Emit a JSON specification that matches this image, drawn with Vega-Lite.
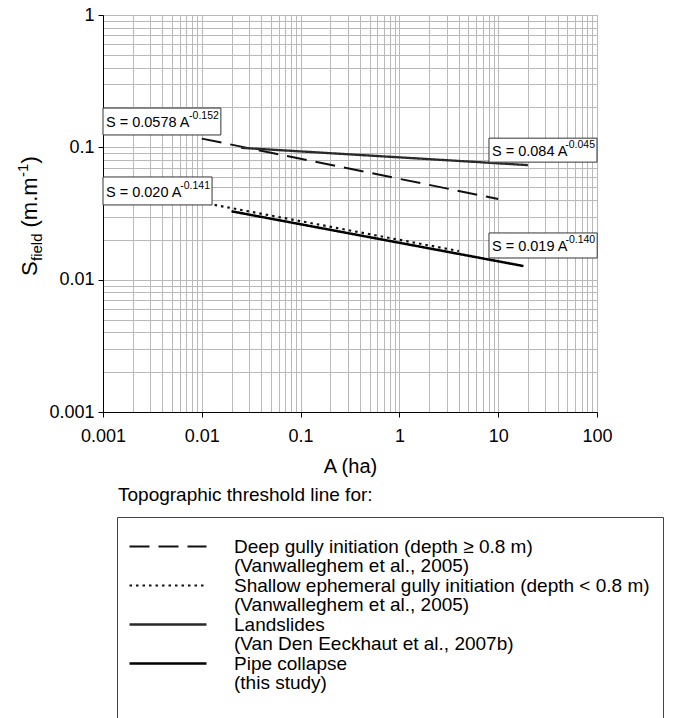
{
  "$schema": "https://vega.github.io/schema/vega-lite/v6.json",
  "width": 494,
  "height": 397,
  "autosize": {"type": "none"},
  "padding": {"left": 103, "top": 15, "right": 76, "bottom": 306},
  "background": "white",
  "config": {
    "font": "Liberation Sans",
    "view": {"stroke": "#7a7a7a", "strokeWidth": 1},
    "style": {"guide-label": {"lineHeight": 19}},
    "axis": {
      "grid": true,
      "gridColor": "#b9b9b9",
      "gridWidth": 1,
      "domainColor": "#000000",
      "domainWidth": 1,
      "tickColor": "#000000",
      "tickSize": 5,
      "labelColor": "#000000",
      "labelFontSize": 18,
      "labelFlush": false,
      "labelOverlap": false,
      "titleColor": "#000000",
      "titleFontWeight": "normal"
    }
  },
  "layer": [
    {
      "data": {
        "values": [
          {"series": "Deep gully initiation (depth ≥ 0.8 m)", "A": 0.01, "S": 0.1164},
          {"series": "Deep gully initiation (depth ≥ 0.8 m)", "A": 10, "S": 0.04073},
          {"series": "Shallow ephemeral gully initiation (depth < 0.8 m)", "A": 0.01, "S": 0.03829},
          {"series": "Shallow ephemeral gully initiation (depth < 0.8 m)", "A": 4, "S": 0.01645},
          {"series": "Landslides", "A": 0.025, "S": 0.09916},
          {"series": "Landslides", "A": 20, "S": 0.0734},
          {"series": "Pipe collapse", "A": 0.02, "S": 0.03285},
          {"series": "Pipe collapse", "A": 18, "S": 0.012675}
        ]
      },
      "mark": {"type": "line", "strokeCap": "butt"},
      "encoding": {
        "x": {
          "field": "A",
          "type": "quantitative",
          "scale": {"type": "log", "domain": [0.001, 100], "nice": false},
          "axis": {
            "title": "A (ha)",
            "titleFontSize": 20,
            "titlePadding": 11,
            "values": [0.001, 0.002, 0.003, 0.004, 0.005, 0.006, 0.007, 0.008, 0.009,
                       0.01, 0.02, 0.03, 0.04, 0.05, 0.06, 0.07, 0.08, 0.09,
                       0.1, 0.2, 0.3, 0.4, 0.5, 0.6, 0.7, 0.8, 0.9,
                       1, 2, 3, 4, 5, 6, 7, 8, 9,
                       10, 20, 30, 40, 50, 60, 70, 80, 90, 100],
            "format": "~g",
            "labelExpr": "indexof([0.001, 0.01, 0.1, 1, 10, 100], datum.value) >= 0 ? datum.label : ''",
            "tickOpacity": {"condition": {"test": "indexof([0.001, 0.01, 0.1, 1, 10, 100], datum.value) >= 0", "value": 1}, "value": 0},
            "labelPadding": 10
          }
        },
        "y": {
          "field": "S",
          "type": "quantitative",
          "scale": {"type": "log", "domain": [0.001, 1], "nice": false},
          "axis": {
            "title": null,
            "values": [0.001, 0.002, 0.003, 0.004, 0.005, 0.006, 0.007, 0.008, 0.009,
                       0.01, 0.02, 0.03, 0.04, 0.05, 0.06, 0.07, 0.08, 0.09,
                       0.1, 0.2, 0.3, 0.4, 0.5, 0.6, 0.7, 0.8, 0.9, 1],
            "format": "~g",
            "labelExpr": "indexof([0.001, 0.01, 0.1, 1], datum.value) >= 0 ? datum.label : ''",
            "tickOpacity": {"condition": {"test": "indexof([0.001, 0.01, 0.1, 1], datum.value) >= 0", "value": 1}, "value": 0},
            "labelPadding": 4
          }
        },
        "color": {
          "field": "series",
          "type": "nominal",
          "scale": {
            "domain": ["Deep gully initiation (depth ≥ 0.8 m)", "Shallow ephemeral gully initiation (depth < 0.8 m)", "Landslides", "Pipe collapse"],
            "range": ["#111111", "#111111", "#2a2a2a", "#000000"]
          },
          "legend": {
            "orient": "none",
            "legendX": 14,
            "legendY": 502,
            "title": " ",
            "titleFontSize": 6,
            "titlePadding": 1,
            "strokeColor": "#444444",
            "fillColor": "white",
            "padding": 13,
            "symbolType": "M-4.8125,0H4.8125",
            "symbolSize": 256,
            "symbolOffset": 28.5,
            "labelOffset": 56.5,
            "labelFontSize": 19,
            "labelColor": "#000000",
            "labelLimit": 0,
            "labelBaseline": "middle",
            "rowPadding": -0.7,
            "labelExpr": "datum.label == 'Landslides' ? [datum.label, '(Van Den Eeckhaut et al., 2007b)'] : datum.label == 'Pipe collapse' ? [datum.label, '(this study)', ''] : [datum.label, '(Vanwalleghem et al., 2005)']"
          }
        },
        "strokeDash": {
          "field": "series",
          "type": "nominal",
          "scale": {
            "domain": ["Deep gully initiation (depth ≥ 0.8 m)", "Shallow ephemeral gully initiation (depth < 0.8 m)", "Landslides", "Pipe collapse"],
            "range": [[20, 9], [2.5, 4], [1, 0], [1, 0]]
          }
        },
        "strokeWidth": {
          "field": "series",
          "type": "nominal",
          "scale": {
            "domain": ["Deep gully initiation (depth ≥ 0.8 m)", "Shallow ephemeral gully initiation (depth < 0.8 m)", "Landslides", "Pipe collapse"],
            "range": [2, 2.5, 1.3, 4]
          }
        }
      }
    },
    {
      "data": {
        "values": [
          {"base": "S = 0.0578 A", "exp": "-0.152", "A1": 0.001, "A2": 0.0156, "S1": 0.198, "S2": 0.124, "Sm": 0.157},
          {"base": "S = 0.084 A", "exp": "-0.045", "A1": 8.07, "A2": 100, "S1": 0.1173, "S2": 0.0773, "Sm": 0.0955},
          {"base": "S = 0.020 A", "exp": "-0.141", "A1": 0.001, "A2": 0.0127, "S1": 0.0597, "S2": 0.0367, "Sm": 0.0468},
          {"base": "S = 0.019 A", "exp": "-0.140", "A1": 8.07, "A2": 100.5, "S1": 0.02254, "S2": 0.01458, "Sm": 0.01813}
        ]
      },
      "layer": [
        {
          "mark": {"type": "rect", "fill": "white", "stroke": "#333333", "strokeWidth": 1, "clip": false},
          "encoding": {
            "x": {"field": "A1", "type": "quantitative"},
            "x2": {"field": "A2"},
            "y": {"field": "S1", "type": "quantitative"},
            "y2": {"field": "S2"}
          }
        },
        {
          "mark": {"type": "text", "align": "left", "baseline": "middle", "dx": 3, "dy": 2, "fontSize": 14.5, "color": "#000000"},
          "encoding": {
            "x": {"field": "A1", "type": "quantitative"},
            "y": {"field": "Sm", "type": "quantitative"},
            "text": {"field": "base"}
          }
        },
        {
          "mark": {"type": "text", "align": "right", "baseline": "middle", "dx": -2, "dy": -5, "fontSize": 10.5, "color": "#000000"},
          "encoding": {
            "x": {"field": "A2", "type": "quantitative"},
            "y": {"field": "Sm", "type": "quantitative"},
            "text": {"field": "exp"}
          }
        }
      ]
    },
    {
      "data": {"values": [{"A": 0.0002148, "S": 0.010658}]},
      "layer": [
        {"mark": {"type": "text", "angle": 270, "align": "left", "baseline": "alphabetic", "fontSize": 22, "color": "#000000", "text": "S"},
         "encoding": {"x": {"field": "A", "type": "quantitative"}, "y": {"field": "S", "type": "quantitative"}}},
        {"mark": {"type": "text", "angle": 270, "align": "left", "baseline": "alphabetic", "fontSize": 15, "color": "#000000", "text": "field", "dx": 15, "dy": 5},
         "encoding": {"x": {"field": "A", "type": "quantitative"}, "y": {"field": "S", "type": "quantitative"}}},
        {"mark": {"type": "text", "angle": 270, "align": "left", "baseline": "alphabetic", "fontSize": 22, "color": "#000000", "text": "(m.m", "dx": 48.5},
         "encoding": {"x": {"field": "A", "type": "quantitative"}, "y": {"field": "S", "type": "quantitative"}}},
        {"mark": {"type": "text", "angle": 270, "align": "left", "baseline": "alphabetic", "fontSize": 15, "color": "#000000", "text": "-1", "dx": 99, "dy": -9},
         "encoding": {"x": {"field": "A", "type": "quantitative"}, "y": {"field": "S", "type": "quantitative"}}},
        {"mark": {"type": "text", "angle": 270, "align": "left", "baseline": "alphabetic", "fontSize": 22, "color": "#000000", "text": ")", "dx": 112.5},
         "encoding": {"x": {"field": "A", "type": "quantitative"}, "y": {"field": "S", "type": "quantitative"}}}
      ]
    },
    {
      "data": {"values": [{"A": 0.001419, "S": 0.0002126, "heading": "Topographic threshold line for:"}]},
      "mark": {"type": "text", "align": "left", "baseline": "alphabetic", "fontSize": 19, "color": "#000000"},
      "encoding": {
        "x": {"field": "A", "type": "quantitative"},
        "y": {"field": "S", "type": "quantitative"},
        "text": {"field": "heading"}
      }
    }
  ]
}
